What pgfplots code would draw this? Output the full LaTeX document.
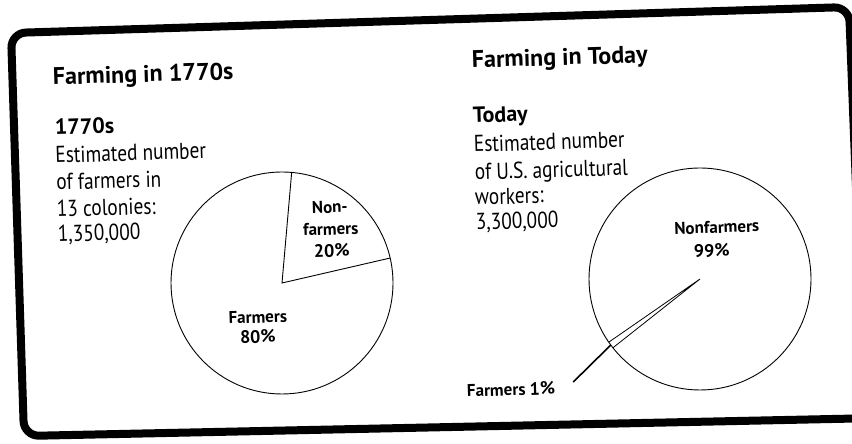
\documentclass[border=0pt]{standalone}
\usepackage{fontspec}
\setmainfont{PT Sans}
\newfontfamily\cond{PT Sans}[FakeStretch=0.84]
\usepackage{pgfplots}
\pgfplotsset{compat=1.18}
\newcommand\ttl{\fontsize{24bp}{28bp}\bfseries\selectfont}
\newcommand\sub{\fontsize{22bp}{26bp}\bfseries\selectfont}
\newcommand\bdy{\cond\fontsize{23bp}{26bp}\selectfont}
\newcommand\lbl{\fontsize{17bp}{20bp}\bfseries\selectfont}
\newcommand\pct{\fontsize{18bp}{22bp}\bfseries\selectfont}
% pie data (percent) and start angle of the first slice
\def\aNon{20}\def\aStart{13}
\def\bFarm{1}\def\bStart{214.7}
\begin{document}
\begin{tikzpicture}[x=1bp,y=1bp]
\useasboundingbox (0,0) rectangle (852,444);
% frame
\draw[line width=8bp, rounded corners=15bp] (880,26) -- (24,8) -- (11,411) -- (849,437) -- (866,0);
% texts
\begin{scope}[every node/.style={anchor=base west, rotate=1.8, inner sep=0pt}]
\node[font=\ttl] at (53,359) {Farming in 1770s};
\node[font=\sub] at (55,309) {1770s};
\node[font=\bdy] at (55.5,281) {Estimated number};
\node[font=\bdy] at (56.5,254) {of farmers in};
\node[font=\bdy] at (57,227) {13 colonies:};
\node[font=\bdy] at (58,202) {1,350,000};
\node[font=\ttl] at (472,376) {Farming in Today};
\node[font=\sub] at (473,321) {Today};
\node[font=\bdy] at (474,292) {Estimated number};
\node[font=\bdy] at (475,264) {of U.S. agricultural};
\node[font=\bdy] at (475,239) {workers:};
\node[font=\bdy] at (476,214) {3,300,000};
\end{scope}
% pie 1
\pgfmathsetmacro\aEnd{\aStart+3.6*\aNon}
\begin{axis}[at={(282bp,161bp)}, anchor=center, hide axis, scale only axis,
  width=222bp, height=222bp, xmin=-1, xmax=1, ymin=-1, ymax=1, clip=false]
\draw[line width=0.9bp] (axis cs:0,0) circle[radius=1];
\addplot[black, line width=0.9bp, data cs=polar, mark=none] coordinates {(\aStart,1) (0,0) (\aEnd,1)};
\begin{scope}[every node/.style={anchor=base, rotate=1.8, inner sep=0pt}]
\node[font=\lbl] at (axis cs:0.432,0.631) {Non-};
\node[font=\lbl] at (axis cs:0.441,0.432) {farmers};
\node[font=\pct] at (axis cs:0.450,0.234) {20\%};
\node[font=\lbl] at (axis cs:-0.216,-0.360) {Farmers};
\node[font=\pct] at (axis cs:-0.216,-0.541) {80\%};
\end{scope}
\end{axis}
% pie 2
\pgfmathsetmacro\bEnd{\bStart+3.6*\bFarm}
\pgfmathsetmacro\bMid{\bStart+1.8*\bFarm}
\begin{axis}[at={(700bp,165bp)}, anchor=center, hide axis, scale only axis,
  width=222bp, height=222bp, xmin=-1, xmax=1, ymin=-1, ymax=1, clip=false]
\draw[line width=0.9bp] (axis cs:0,0) circle[radius=1];
\addplot[black, line width=0.8bp, data cs=polar, mark=none] coordinates {(\bStart,1) (0,0) (\bEnd,1)};
\addplot[black, line width=1.6bp, data cs=polar, mark=none] coordinates {(\bMid,1) (219.1,1.472)};
\begin{scope}[every node/.style={anchor=base, rotate=1.8, inner sep=0pt}]
\node[font=\lbl] at (axis cs:0.153,0.414) {Nonfarmers};
\node[font=\pct] at (axis cs:0.108,0.198) {99\%};
\node[anchor=base west] at (axis cs:-2.099,-1.063) {\lbl Farmers \pct 1\%};
\end{scope}
\end{axis}
\end{tikzpicture}
\end{document}
